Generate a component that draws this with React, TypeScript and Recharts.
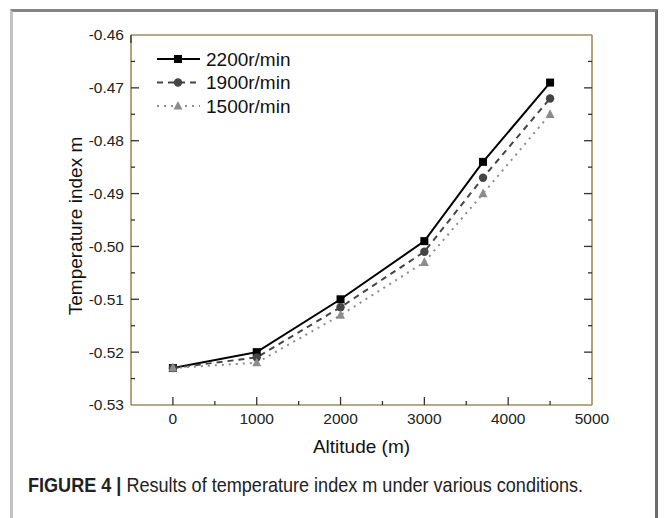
import React from 'react';
import { LineChart, Line, XAxis, YAxis, Legend } from 'recharts';

const altitudes = [0, 1000, 2000, 3000, 3700, 4500];
const m2200 = [-0.523, -0.52, -0.51, -0.499, -0.484, -0.469];
const m1900 = [-0.523, -0.521, -0.5115, -0.501, -0.487, -0.472];
const m1500 = [-0.523, -0.522, -0.513, -0.503, -0.49, -0.475];
const seriesNames = ['2200r/min', '1900r/min', '1500r/min'];

const xDomain = [-500, 5000];
const xTicks = [0, 500, 1000, 1500, 2000, 2500, 3000, 3500, 4000, 4500, 5000];
const xMajor = [0, 1000, 2000, 3000, 4000, 5000];
const yDomain = [-0.53, -0.46];
const yTicks = [-0.53, -0.525, -0.52, -0.515, -0.51, -0.505, -0.5, -0.495, -0.49, -0.485, -0.48, -0.475, -0.47, -0.465, -0.46];
const yMajor = [-0.53, -0.52, -0.51, -0.5, -0.49, -0.48, -0.47, -0.46];

const data = altitudes.map((a, i) => ({ alt: a, s2200: m2200[i], s1900: m1900[i], s1500: m1500[i] }));

const FONT = '"Liberation Sans", Arial, Helvetica, sans-serif';
const AXIS_COLOR = '#a08c5c';
const TICK_COLOR = '#333';

const isYMajor = (v: number) => yMajor.some((m) => Math.abs(m - v) < 1e-9);
const isXMajor = (v: number) => xMajor.includes(v);

const BottomTick = (props: any) => {
  const { x, y, payload } = props;
  const v = payload.value;
  const major = isXMajor(v);
  const inside = v > xDomain[0] && v < xDomain[1];
  return (
    <g>
      {inside && <line x1={x} x2={x} y1={y} y2={y - (major ? 8 : 4)} stroke={TICK_COLOR} strokeWidth={1.3} />}
      {major && (
        <text x={x} y={y + 19} textAnchor="middle" fontFamily={FONT} fontSize={15.5} fill="#222">
          {v}
        </text>
      )}
    </g>
  );
};

const TopTick = (props: any) => {
  const { x, y, payload } = props;
  const v = payload.value;
  const major = isXMajor(v);
  const inside = v > xDomain[0] && v < xDomain[1];
  return <g>{inside && <line x1={x} x2={x} y1={y} y2={y + (major ? 8 : 4)} stroke={TICK_COLOR} strokeWidth={1.3} />}</g>;
};

const LeftTick = (props: any) => {
  const { x, y, payload } = props;
  const v = payload.value;
  const major = isYMajor(v);
  const inside = v > yDomain[0] + 1e-9 && v < yDomain[1] - 1e-9;
  return (
    <g>
      {inside && <line x1={x} x2={x + (major ? 8 : 4)} y1={y} y2={y} stroke={TICK_COLOR} strokeWidth={1.3} />}
      {major && (
        <text x={x - 7} y={y} dy="0.35em" textAnchor="end" fontFamily={FONT} fontSize={15.5} fill="#222">
          {v.toFixed(2)}
        </text>
      )}
    </g>
  );
};

const RightTick = (props: any) => {
  const { x, y, payload } = props;
  const v = payload.value;
  const major = isYMajor(v);
  const inside = v > yDomain[0] + 1e-9 && v < yDomain[1] - 1e-9;
  return <g>{inside && <line x1={x} x2={x - (major ? 8 : 4)} y1={y} y2={y} stroke={TICK_COLOR} strokeWidth={1.3} />}</g>;
};

const Square = ({ cx, cy, color, s = 8 }: any) => <rect x={cx - s / 2} y={cy - s / 2} width={s} height={s} fill={color} />;
const Circle = ({ cx, cy, color, r = 4.2 }: any) => <circle cx={cx} cy={cy} r={r} fill={color} />;
const Tri = ({ cx, cy, color, s = 9 }: any) => (
  <polygon points={`${cx},${cy - s * 0.55} ${cx - s / 2},${cy + s * 0.4} ${cx + s / 2},${cy + s * 0.4}`} fill={color} />
);

const styles = [
  { key: 's2200', color: '#000000', dash: undefined as string | undefined, marker: Square },
  { key: 's1900', color: '#454545', dash: '6 5', marker: Circle },
  { key: 's1500', color: '#8c8c8c', dash: '2 5', marker: Tri },
];

const makeDot = (Marker: any, color: string) => (p: any) => {
  if (p.cx == null || p.cy == null) return <g key={p.key} />;
  return <Marker key={p.key} cx={p.cx} cy={p.cy} color={color} />;
};

const LegendContent = (props: any) => {
  const payload = [...(props.payload || [])].sort(
    (a: any, b: any) => styles.findIndex((s) => s.key === a.dataKey) - styles.findIndex((s) => s.key === b.dataKey)
  );
  return (
    <svg width={200} height={76} style={{ overflow: 'visible', display: 'block' }}>
      {payload.map((entry: any, i: number) => {
        const st = styles.find((s) => s.key === entry.dataKey) || styles[i];
        const cy = 12 + i * 23.5;
        const M = st.marker;
        return (
          <g key={i}>
            <line x1={0} x2={43} y1={cy} y2={cy} stroke={st.color} strokeWidth={2} strokeDasharray={st.dash} />
            <M cx={21} cy={cy} color={st.color} />
            <text x={49} y={cy} dy="0.35em" fontFamily={FONT} fontSize={19} fill="#111">
              {entry.value}
            </text>
          </g>
        );
      })}
    </svg>
  );
};

export default function App() {
  return (
    <div style={{ position: 'absolute', left: 0, top: 0, width: 665, height: 518, background: '#fff', overflow: 'hidden' }}>
      <div
        style={{
          position: 'absolute',
          left: 10,
          top: 9,
          width: 648,
          height: 530,
          borderTop: '3px solid #858585',
          borderRight: '3px solid #6c6c6c',
          borderLeft: '3px solid #c2c2c2',
          boxSizing: 'border-box',
        }}
      />
      <div style={{ position: 'absolute', left: 0, top: 0 }}>
        <LineChart width={665} height={518} data={data} margin={{ top: 25, right: 63, bottom: 73, left: 71 }}>
          <XAxis
            dataKey="alt"
            type="number"
            domain={xDomain}
            ticks={xTicks}
            interval={0}
            height={40}
            tickSize={0}
            tickMargin={0}
            tickLine={false}
            tick={<BottomTick />}
            axisLine={{ stroke: AXIS_COLOR, strokeWidth: 1.6 }}
            allowDataOverflow
          />
          <XAxis
            xAxisId="top"
            orientation="top"
            type="number"
            domain={xDomain}
            ticks={xTicks}
            interval={0}
            height={10}
            tickSize={0}
            tickMargin={0}
            tickLine={false}
            tick={<TopTick />}
            axisLine={{ stroke: AXIS_COLOR, strokeWidth: 1.6 }}
            allowDataOverflow
          />
          <YAxis
            type="number"
            domain={yDomain}
            ticks={yTicks}
            interval={0}
            width={60}
            tickSize={0}
            tickMargin={0}
            tickLine={false}
            tick={<LeftTick />}
            axisLine={{ stroke: AXIS_COLOR, strokeWidth: 1.6 }}
            allowDataOverflow
          />
          <YAxis
            yAxisId="right"
            orientation="right"
            type="number"
            domain={yDomain}
            ticks={yTicks}
            interval={0}
            width={10}
            tickSize={0}
            tickMargin={0}
            tickLine={false}
            tick={<RightTick />}
            axisLine={{ stroke: AXIS_COLOR, strokeWidth: 1.6 }}
            allowDataOverflow
          />
          <Legend
            layout="vertical"
            verticalAlign="middle"
            align="center"
            content={<LegendContent />}
            wrapperStyle={{ left: 157, top: 47, width: 200, height: 76 }}
          />
          {styles.map((st, i) => (
            <Line
              key={st.key}
              dataKey={st.key}
              name={seriesNames[i]}
              stroke={st.color}
              strokeWidth={2}
              strokeDasharray={st.dash}
              dot={makeDot(st.marker, st.color)}
              activeDot={false}
              isAnimationActive={false}
            />
          ))}
        </LineChart>
      </div>
      <div
        style={{
          position: 'absolute',
          left: 0,
          top: 436,
          width: 723,
          textAlign: 'center',
          fontFamily: FONT,
          fontSize: 19,
          color: '#111',
        }}
      >
        Altitude (m)
      </div>
      <div
        style={{
          position: 'absolute',
          left: 76,
          top: 226,
          transform: 'translate(-50%, -50%) rotate(-90deg)',
          whiteSpace: 'nowrap',
          fontFamily: FONT,
          fontSize: 19,
          lineHeight: '20px',
          color: '#111',
        }}
      >
        Temperature index m
      </div>
      <div
        style={{
          position: 'absolute',
          left: 28,
          top: 473,
          whiteSpace: 'nowrap',
          fontFamily: FONT,
          fontSize: 21,
          lineHeight: '24px',
          color: '#222',
          transform: 'scaleX(0.86)',
          transformOrigin: 'left center',
        }}
      >
        <b>FIGURE 4 |</b> Results of temperature index m under various conditions.
      </div>
    </div>
  );
}
